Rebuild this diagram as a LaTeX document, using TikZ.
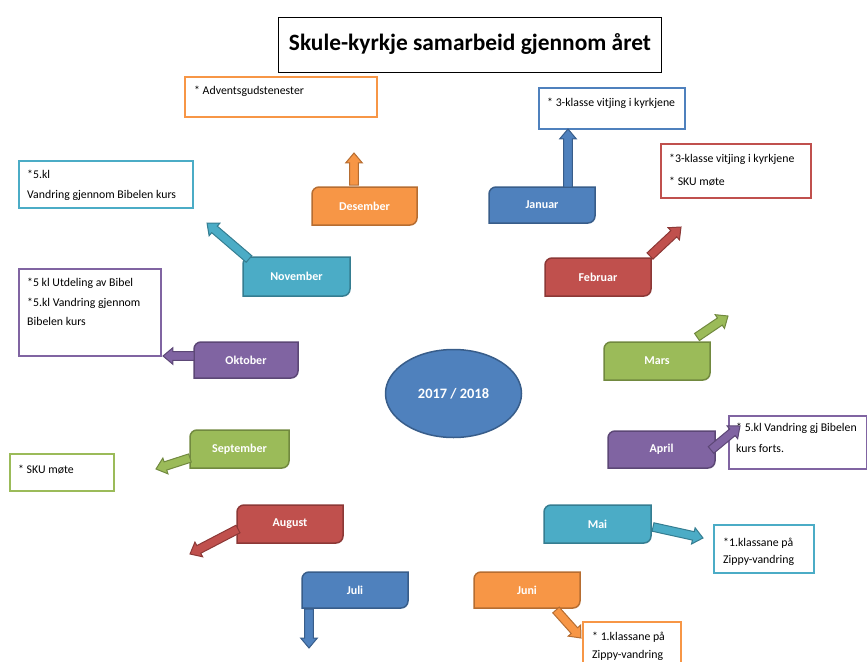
\documentclass[tikz,border=0pt]{standalone}
\usepackage{fontspec}
\setmainfont{Carlito}
\usetikzlibrary{shapes.geometric,shapes.arrows,calc}
\definecolor{bluef}{HTML}{4F81BD}\definecolor{blued}{HTML}{385D8A}
\definecolor{redf}{HTML}{C0504D}\definecolor{redd}{HTML}{8C3836}
\definecolor{greenf}{HTML}{9BBB59}\definecolor{greend}{HTML}{71893F}
\definecolor{purplef}{HTML}{8064A2}\definecolor{purpled}{HTML}{5C4776}
\definecolor{aquaf}{HTML}{4BACC6}\definecolor{aquad}{HTML}{357D91}
\definecolor{orangef}{HTML}{F79646}\definecolor{oranged}{HTML}{B66D31}
\tikzset{
  mlabel/.style={text=white, font=\bfseries\fontsize{12}{14}\selectfont, inner sep=0pt},
  barrow/.style={single arrow, inner xsep=0pt, inner ysep=3.8pt, outer sep=0pt,
    single arrow head extend=4pt, single arrow tip angle=80, line width=1pt},
  tbox/.style={rectangle, line width=1.5pt, inner sep=0pt, anchor=north west},
  ttext/.style={anchor=north west, inner sep=0pt, align=left, text=black,
    font=\fontsize{11.8}{20}\selectfont},
}
\newcommand{\monthbox}[7]{%
  \draw[line width=1.5pt, draw=#6d, fill=#6f] (#2,-#5) -- (#2,-#3-7)
    arc[start angle=180,end angle=90,radius=7] -- (#4,-#3) -- (#4,-#5+7)
    arc[start angle=0,end angle=-90,radius=7] -- cycle;
  \node[mlabel, minimum width={#4-#2}, minimum height={#5-#3}] (#1)
    at ({(#2+#4)/2},{-(#3+#5)/2}) {#7};}
\newcommand{\blockarrow}[3]{%
  \path let \p1=(#1), \p2=(#2), \n1={atan2(\y2-\y1,\x2-\x1)},
    \n2={veclen(\x2-\x1,\y2-\y1)} in
    node[barrow, draw=#3d, fill=#3f, rotate=\n1, minimum height=\n2, anchor=tail] at (\p1) {};}
\begin{document}
\begin{tikzpicture}[x=1pt,y=1pt]
\useasboundingbox (0,0) rectangle (867,-661);
\clip (0,0) rectangle (867,-661);
% title
\node[draw=black, line width=1pt, minimum width=383, minimum height=55, anchor=north west,
  inner sep=0pt] (title) at (278,-17) {};
\node[font=\bfseries\fontsize{23.4}{28}\selectfont] (titleT) at ($(title.center)+(0,1)$) {Skule-kyrkje samarbeid gjennom året};
% centre
\node[ellipse, draw=blued, fill=bluef, line width=1.5pt, minimum width=136, minimum height=88,
  text=white, font=\bfseries\fontsize{14.4}{17}\selectfont] (year) at (453.5,-393.5) {2017 / 2018};
% month boxes
\monthbox{jan}{489}{187}{595}{223}{blue}{Januar}
\monthbox{feb}{545}{258}{651}{296}{red}{Februar}
\monthbox{mar}{604}{342}{710}{380}{green}{Mars}
\monthbox{apr}{608}{431}{715}{468}{purple}{April}
\monthbox{mai}{544}{505}{651}{543}{aqua}{Mai}
\monthbox{jun}{474}{572}{580}{608}{orange}{Juni}
\monthbox{jul}{302}{572}{408}{608}{blue}{Juli}
\monthbox{aug}{237}{505}{343}{543}{red}{August}
\monthbox{sep}{190}{430}{289}{468}{green}{September}
\monthbox{okt}{194}{342}{298}{378}{purple}{Oktober}
\monthbox{nov}{243}{257}{350}{296}{aqua}{November}
\monthbox{des}{312}{187}{417}{225}{orange}{Desember}
% text boxes
\node[tbox, draw=orangef, minimum width=192, minimum height=40] (tdes) at (184,-76) {};
\node[ttext] (tdesT) at (194,-86) {* Adventsgudstenester};
\node[tbox, draw=bluef, minimum width=146, minimum height=41] (tjan) at (538,-87) {};
\node[ttext] (tjanT) at (547,-98) {* 3-klasse vitjing i kyrkjene};
\node[tbox, draw=redf, minimum width=150, minimum height=54] (tfeb) at (660,-143) {};
\node[ttext, font=\fontsize{11.8}{23}\selectfont] (tfebT) at (669,-154) {*3-klasse vitjing i kyrkjene\\* SKU møte};
\node[tbox, draw=purplef, minimum width=138, minimum height=53] (tapr) at (728,-415) {};
\node[ttext, font=\fontsize{11.8}{21}\selectfont] (taprT) at (736,-423) {* 5.kl Vandring gj Bibelen\\kurs forts.};
\node[tbox, draw=aquaf, minimum width=100, minimum height=48] (tmai) at (713,-524) {};
\node[ttext, font=\fontsize{11.8}{17}\selectfont] (tmaiT) at (723,-538) {*1.klassane på\\Zippy-vandring};
\node[tbox, draw=orangef, minimum width=98, minimum height=50] (tjun) at (582,-621) {};
\node[ttext, font=\fontsize{11.8}{18}\selectfont] (tjunT) at (592,-632) {* 1.klassane på\\Zippy-vandring};
\node[tbox, draw=greenf, minimum width=104, minimum height=37] (tsep) at (9,-453) {};
\node[ttext] (tsepT) at (18,-465) {* SKU møte};
\node[tbox, draw=purplef, minimum width=142, minimum height=87] (tokt) at (18,-268) {};
\node[ttext, font=\fontsize{11.8}{19.5}\selectfont] (toktT) at (27,-278) {*5 kl Utdeling av Bibel\\*5.kl Vandring gjennom\\Bibelen kurs};
\node[tbox, draw=aquaf, minimum width=174, minimum height=47] (tnov) at (18,-160) {};
\node[ttext, font=\fontsize{11.8}{19.5}\selectfont] (tnovT) at (27,-170) {*5.kl\\Vandring gjennom Bibelen kurs};
% arrow ends
\coordinate (janA) at (568,-187); \coordinate (janB) at (568,-129);
\coordinate (desA) at (354,-185); \coordinate (desB) at (354,-153);
\coordinate (febA) at (650,-256); \coordinate (febB) at (681,-227);
\coordinate (marA) at (697,-337); \coordinate (marB) at (728,-316);
\coordinate (aprA) at (711,-450); \coordinate (aprB) at (740,-426);
\coordinate (maiA) at (653,-527); \coordinate (maiB) at (703,-538);
\coordinate (junA) at (556,-610); \coordinate (junB) at (581,-638);
\coordinate (julA) at (309,-609); \coordinate (julB) at (309,-648);
\coordinate (augA) at (238,-529); \coordinate (augB) at (190,-554);
\coordinate (sepA) at (190,-458); \coordinate (sepB) at (156,-469);
\coordinate (oktA) at (194,-356); \coordinate (oktB) at (163,-356);
\coordinate (novA) at (249,-259); \coordinate (novB) at (207,-223);
\blockarrow{janA}{janB}{blue}
\blockarrow{desA}{desB}{orange}
\blockarrow{febA}{febB}{red}
\blockarrow{marA}{marB}{green}
\blockarrow{aprA}{aprB}{purple}
\blockarrow{maiA}{maiB}{aqua}
\blockarrow{junA}{junB}{orange}
\blockarrow{julA}{julB}{blue}
\blockarrow{augA}{augB}{red}
\blockarrow{sepA}{sepB}{green}
\blockarrow{oktA}{oktB}{purple}
\blockarrow{novA}{novB}{aqua}
\end{tikzpicture}
\end{document}
